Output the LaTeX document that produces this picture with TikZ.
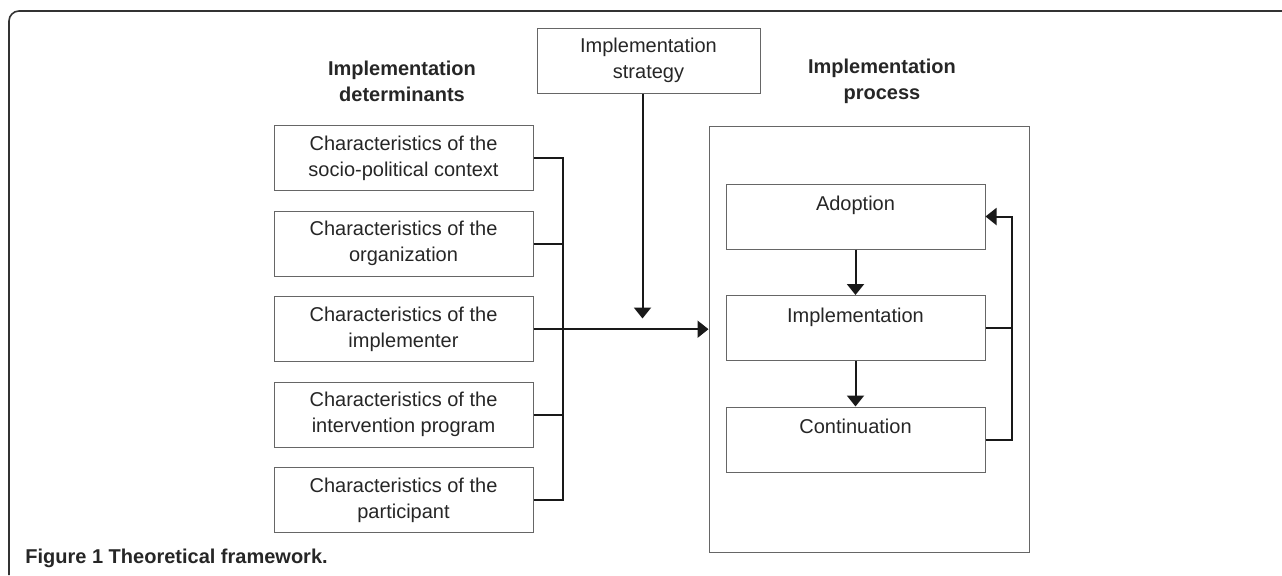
\documentclass[tikz,border=0pt]{standalone}
\usepackage{fontspec}
\setmainfont{Liberation Sans}
\usetikzlibrary{arrows.meta}
\tikzstyle{factor} = [rectangle, minimum width=129.5pt, minimum height=32.5pt, text centered, align=center, draw=black!60, line width=0.5pt, text=black!85, font=\fontsize{10}{13}\selectfont]
\tikzstyle{phase} = [factor]
\tikzstyle{container} = [rectangle, minimum width=160pt, minimum height=213pt, draw=black!60, line width=0.5pt]
\tikzstyle{heading} = [align=center, text=black!85, font=\bfseries\fontsize{10}{13}\selectfont]
\tikzstyle{link} = [line width=1pt, draw=black!90]
\tikzstyle{arrow} = [link, -{Triangle[width=8.5pt,length=5.5pt]}]

\begin{document}
\begin{tikzpicture}[x=0.5pt, y=-0.5pt, node distance=42.8pt]
    \useasboundingbox (0,0) rectangle (1282,575);
    \draw [line width=0.8pt, draw=black!80, rounded corners=5pt] (9,575) |- (1282,11);

    \node (hdet) [heading] at (402,81) {Implementation\\determinants};
    \node (hproc) [heading] at (882,81) {Implementation\\process};
    \node (strat) [factor, minimum width=111.5pt] at (648.5,60.5) {Implementation\\strategy};

    \node (ctx) [factor] at (403.5,158) {Characteristics of the\\socio-political context};
    \node (org) [factor, below of=ctx] {Characteristics of the\\organization};
    \node (imp) [factor, below of=org] {Characteristics of the\\implementer};
    \node (prog) [factor, below of=imp] {Characteristics of the\\intervention program};
    \node (part) [factor, below of=prog] {Characteristics of the\\participant};

    \node (proc) [container] at (869,339) {};
    \node (adopt) [phase] at (855.5,216.5) {Adoption\\\mbox{}};
    \node (implm) [phase, node distance=55.75pt, below of=adopt] {Implementation\\\mbox{}};
    \node (cont) [phase, node distance=55.75pt, below of=implm] {Continuation\\\mbox{}};

    \coordinate (bus) at (563,0);
    \coordinate (loop) at (1012,0);

    \draw [link] (ctx.east) -- (ctx.east -| bus) -- (part.east -| bus) -- (part.east);
    \draw [link] (org.east) -- (org.east -| bus);
    \draw [link] (prog.east) -- (prog.east -| bus);
    \draw [arrow] (imp.east) -- (imp.east -| proc.west);
    \draw [arrow] ([xshift=-3pt]strat.south) -- ++(0,225);

    \draw [arrow] (adopt.south) -- (implm.north);
    \draw [arrow] (implm.south) -- (cont.north);
    \draw [arrow] (cont.east) -- (cont.east -| loop) -- (adopt.east -| loop) -- (adopt.east);
    \draw [link] (implm.east) -- (implm.east -| loop);

    \node (caption) [anchor=west, inner sep=0pt, text=black!85, font=\bfseries\fontsize{10}{13}\selectfont] at (25,558) {Figure 1 Theoretical framework.};

\end{tikzpicture}
\end{document}
